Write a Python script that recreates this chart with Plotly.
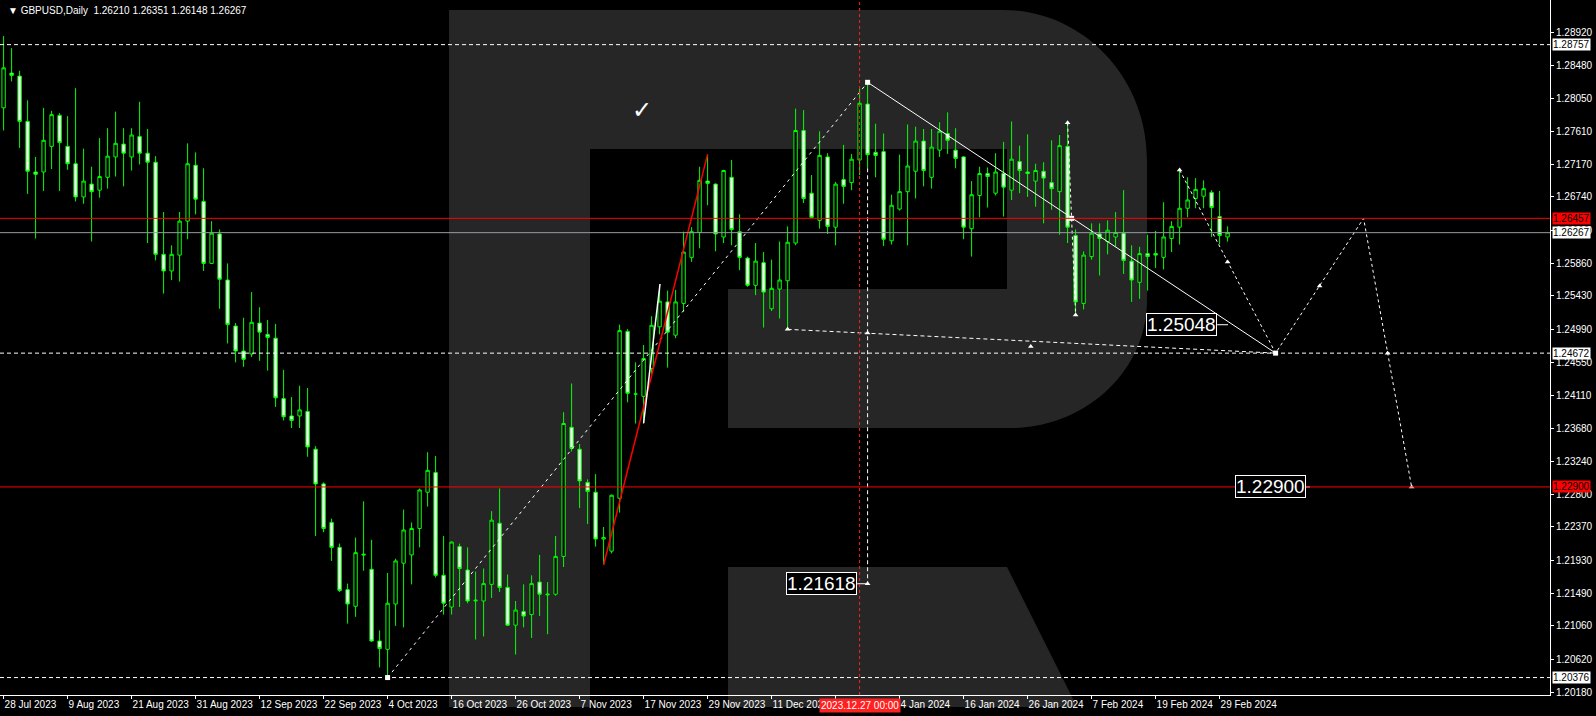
import plotly.graph_objects as go

# ---------------- data ----------------
opens = [1.2792,1.2838,1.2834,1.2774,1.2707,1.2707,1.2741,1.2782,1.2741,1.2718,
         1.2674,1.2691,1.2683,1.2700,1.2727,1.2744,1.2727,1.2754,1.2732,1.2720,
         1.2598,1.2576,1.2597,1.2642,1.2716,1.2668,1.2586,1.2625,1.2564,1.2503,
         1.2470,1.2466,1.2507,1.2492,1.2487,1.2407,1.2384,1.2384,1.2390,1.2340,
         1.2294,1.2243,1.2210,1.2154,1.2132,1.2201,1.2181,1.2086,1.2075,1.2135,
         1.2189,1.2200,1.2235,1.2283,1.2309,1.2173,1.2131,1.2211,1.2180,1.2139,
         1.2139,1.2161,1.2242,1.2157,1.2107,1.2125,1.2121,1.2164,1.2147,1.2148,
         1.2198,1.2369,1.2340,1.2296,1.2283,1.2221,1.2205,1.2275,1.2496,1.2413,
         1.2410,1.2447,1.2502,1.2535,1.2491,1.2533,1.2594,1.2627,1.2695,1.2691,
         1.2621,1.2700,1.2628,1.2593,1.2557,1.2587,1.2526,1.2552,1.2563,1.2613,
         1.2762,1.2679,1.2643,1.2727,1.2634,1.2697,1.2693,1.2723,1.2797,1.2733,
         1.2734,1.2616,1.2658,1.2681,1.2708,1.2748,1.2700,1.2736,1.2758,1.2736,
         1.2727,1.2632,1.2676,1.2705,1.2679,1.2705,1.2683,1.2721,1.2707,1.2695,
         1.2708,1.2693,1.2681,1.2741,1.2623,1.2533,1.2595,1.2625,1.2615,1.2621,
         1.2626,1.2589,1.2561,1.2599,1.2599,1.2594,1.2619,1.2634,1.2659,1.2672,
         1.2675,1.2680,1.2648,1.26210]
highs = [1.2887,1.2871,1.2841,1.2802,1.2727,1.2792,1.2788,1.2785,1.2781,1.2818,
         1.2738,1.2714,1.2752,1.2765,1.2787,1.2765,1.2765,1.2800,1.2764,1.2728,
         1.2654,1.2610,1.2654,1.2745,1.2733,1.2712,1.2642,1.2631,1.2586,1.2507,
         1.2514,1.2548,1.2528,1.2511,1.2506,1.2445,1.2409,1.2424,1.2421,1.2344,
         1.2296,1.2248,1.2215,1.2162,1.2223,1.2271,1.2220,1.2100,1.2176,1.2195,
         1.2260,1.2243,1.2288,1.2336,1.2331,1.2225,1.2218,1.2215,1.2210,1.2178,
         1.2182,1.2258,1.2288,1.2174,1.2139,1.2161,1.2173,1.2200,1.2164,1.2225,
         1.2389,1.2427,1.2347,1.2300,1.2307,1.2237,1.2280,1.2505,1.2499,1.2455,
         1.2478,1.2516,1.2556,1.2550,1.2551,1.2628,1.2634,1.2714,1.2730,1.2692,
         1.2710,1.2723,1.2651,1.2595,1.2613,1.2601,1.2591,1.2615,1.2635,1.2791,
         1.2789,1.2703,1.2761,1.2732,1.2694,1.2743,1.2731,1.2818,1.2826,1.2771,
         1.2758,1.2677,1.2730,1.2770,1.2767,1.2764,1.2764,1.2773,1.2786,1.2765,
         1.2728,1.2695,1.2714,1.2713,1.2732,1.2747,1.2774,1.2742,1.2757,1.2718,
         1.2720,1.2749,1.2756,1.2773,1.2631,1.2602,1.2639,1.2639,1.2643,1.2654,
         1.2683,1.2610,1.2608,1.2624,1.2629,1.2667,1.2642,1.2711,1.2700,1.2699,
         1.2696,1.2683,1.2682,1.26351]
lows = [1.2762,1.2827,1.2739,1.2678,1.2619,1.2682,1.2711,1.2682,1.2710,1.2668,
        1.2665,1.2615,1.2673,1.2685,1.2701,1.2688,1.2709,1.2717,1.2613,1.2590,
        1.2546,1.2564,1.2562,1.2618,1.2651,1.2576,1.2585,1.2526,1.2480,1.2455,
        1.2449,1.2462,1.2457,1.2444,1.2396,1.2378,1.2368,1.2368,1.2330,1.2225,
        1.2230,1.2192,1.2151,1.2109,1.2118,1.2179,1.2085,1.2051,1.20376,1.2106,
        1.2104,1.2161,1.2210,1.2264,1.2170,1.2121,1.2121,1.2131,1.2136,1.2088,
        1.2092,1.2143,1.2151,1.2106,1.2068,1.2104,1.2090,1.2119,1.2095,1.2146,
        1.2184,1.2337,1.2262,1.2241,1.2211,1.2187,1.2202,1.2256,1.2402,1.2374,
        1.2374,1.2440,1.2492,1.2448,1.2487,1.2522,1.2588,1.2606,1.2663,1.2602,
        1.2613,1.2610,1.2577,1.2555,1.2544,1.2501,1.2523,1.2513,1.2499,1.2610,
        1.2666,1.2646,1.2632,1.2625,1.2610,1.2665,1.2683,1.2703,1.2712,1.2700,
        1.2609,1.2611,1.2656,1.2610,1.2672,1.2688,1.2685,1.2727,1.2731,1.2712,
        1.2618,1.2595,1.2647,1.2660,1.2676,1.2648,1.2670,1.2679,1.2674,1.2661,
        1.2639,1.2657,1.2624,1.2613,1.2518,1.2525,1.2591,1.2570,1.2598,1.2608,
        1.2572,1.2535,1.2539,1.2550,1.2580,1.2578,1.2601,1.2611,1.2647,1.2659,
        1.2659,1.2621,1.2611,1.26148]
closes = [1.2845,1.2835,1.2774,1.2708,1.2704,1.2749,1.2783,1.2746,1.2718,1.2674,
          1.2695,1.2681,1.2701,1.2728,1.2745,1.2732,1.2756,1.2732,1.2720,1.2598,
          1.2576,1.2598,1.2642,1.2718,1.2671,1.2586,1.2626,1.2565,1.2505,1.2470,
          1.2459,1.2508,1.2495,1.2488,1.2408,1.2383,1.2378,1.2392,1.2343,1.2294,
          1.2235,1.2210,1.2153,1.2135,1.2203,1.2200,1.2086,1.2076,1.2136,1.2192,
          1.2233,1.2235,1.2286,1.2312,1.2173,1.2136,1.2217,1.2182,1.2139,1.2140,
          1.2162,1.2246,1.2157,1.2107,1.2127,1.2119,1.2162,1.2148,1.2148,1.2198,
          1.2374,1.2341,1.2298,1.2284,1.2221,1.2223,1.2279,1.2497,1.2414,1.2413,
          1.2460,1.2504,1.2536,1.2495,1.2535,1.2601,1.2628,1.2696,1.2692,1.2625,
          1.2709,1.2631,1.2594,1.2557,1.2589,1.2548,1.2553,1.2564,1.2614,1.2762,
          1.2672,1.2647,1.2729,1.2635,1.2691,1.2688,1.2724,1.2798,1.2730,1.2729,
          1.2618,1.2663,1.2681,1.2715,1.2748,1.2709,1.2740,1.2761,1.2749,1.2725,
          1.2634,1.2677,1.2705,1.2701,1.2707,1.2687,1.2724,1.2709,1.2705,1.2709,
          1.2699,1.2685,1.2742,1.2634,1.2535,1.2597,1.2626,1.2619,1.2630,1.2627,
          1.2590,1.2564,1.2599,1.2595,1.2597,1.2621,1.2635,1.2659,1.2670,1.2684,
          1.2685,1.2660,1.2623,1.26267]
bars = list(range(len(opens)))

tick_idx = list(range(0, 153, 8))
tick_labels = ["28 Jul 2023", "9 Aug 2023", "21 Aug 2023", "31 Aug 2023", "12 Sep 2023",
               "22 Sep 2023", "4 Oct 2023", "16 Oct 2023", "26 Oct 2023", "7 Nov 2023",
               "17 Nov 2023", "29 Nov 2023", "11 Dec 2023", "21 Dec 2023", "4 Jan 2024",
               "16 Jan 2024", "26 Jan 2024", "7 Feb 2024", "19 Feb 2024", "29 Feb 2024"]
price_ticks = [1.28920, 1.28480, 1.28050, 1.27610, 1.27170, 1.26740, 1.26300, 1.25860,
               1.25430, 1.24990, 1.24550, 1.24110, 1.23680, 1.23240, 1.22800, 1.22370,
               1.21930, 1.21490, 1.21060, 1.20620, 1.20180]

levels_dashed = [1.28757, 1.24672, 1.20376]
levels_red = [1.26457, 1.22900]
bid_price = 1.26267
white_labels = [1.28757, 1.26267, 1.24672, 1.20376]
red_labels = [1.26457, 1.22900]

cross_bar = 107
cross_label = "2023.12.27 00:00"
header = "▼ GBPUSD,Daily  1.26210 1.26351 1.26148 1.26267"

# drawings (bar index, price)
rally_x, rally_y = [48, 108], [1.20376, 1.28258]
red_leg_x, red_leg_y = [75, 88], [1.21866, 1.27304]
wave_x, wave_y = [80, 82.05], [1.23743, 1.25587]
fall_x, fall_y = [108, 159], [1.28258, 1.24672]
base_x, base_y = [98, 159], [1.24987, 1.24672]
drop_x, drop_y = [133, 134], [1.27723, 1.25177]
vert_x, vert_y = [108, 108], [1.2712, 1.21618]
proj_x = [147, 159, 170, 176]
proj_y = [1.27096, 1.24672, 1.26457, 1.22900]
arrow_x = [153, 164.5, 173, 108, 128.4, 98, 147, 176, 133, 134, 108]
arrow_y = [1.25879, 1.25560, 1.24672, 1.24939, 1.24759, 1.24987, 1.27096, 1.22900,
           1.27723, 1.25177, 1.21618]
square_x = [48, 108, 133.5, 159]
square_y = [1.20376, 1.28258, 1.26457, 1.24672]
boxes = [(106.7, 108.0, 1.21618), (151.7, 153.05, 1.25048), (162.76, 163.3, 1.22900)]

# ---------------- layout geometry ----------------
FW, FH = 1596, 716
ML, MR, MT, MB = 0, 46, 0, 21
PW, PH = FW - ML - MR, FH - MT - MB
PX_PER_BAR = 8.0
x0 = -3.6 / PX_PER_BAR
xr = [x0, x0 + PW / PX_PER_BAR]
yr = [1.20145, 1.29348]

GREEN = "#00FF00"
FONT = "Liberation Sans"

fig = go.Figure()

# watermark (RoboForex "R") in paper coords from pixel geometry
def P(px, py):
    return f"{px / PW:.5f},{1 - py / PH:.5f}"

r_path = ("M " + P(449, 10) + " L " + P(1003, 10) +
          " C " + P(1082.5, 10) + " " + P(1147, 77) + " " + P(1147, 160) +
          " L " + P(1147, 300) +
          " C " + P(1147, 371) + " " + P(1085.7, 428) + " " + P(1010, 428) +
          " L " + P(728, 428) + " L " + P(728, 289) + " L " + P(1007, 289) +
          " L " + P(1007, 149) + " L " + P(590, 149) + " L " + P(590, 707) +
          " L " + P(449, 707) + " Z")
leg_path = ("M " + P(728, 567) + " L " + P(1007, 567) + " L " + P(1077, 707) +
            " L " + P(728, 707) + " Z")
for pth in (r_path, leg_path):
    fig.add_shape(type="path", path=pth, xref="paper", yref="paper",
                  fillcolor="#262626", line=dict(width=0), layer="below")

fig.add_trace(go.Candlestick(
    x=bars, open=opens, high=highs, low=lows, close=closes,
    increasing=dict(line=dict(color=GREEN, width=1), fillcolor="black"),
    decreasing=dict(line=dict(color=GREEN, width=1), fillcolor="white"),
    whiskerwidth=0, hoverinfo="skip", showlegend=False))

def line(xs, ys, color="white", width=1, dash="solid"):
    fig.add_trace(go.Scatter(x=xs, y=ys, mode="lines", hoverinfo="skip", showlegend=False,
                             line=dict(color=color, width=width, dash=dash)))

line(rally_x, rally_y, dash="3px,4px")
line(red_leg_x, red_leg_y, color="red", width=1.5)
line(wave_x, wave_y, width=1.5)
line(fall_x, fall_y)
line(base_x, base_y, dash="4px,3px")
line(drop_x, drop_y, dash="3px,3px")
line(vert_x, vert_y, dash="4px,3px")
line(proj_x, proj_y, dash="3px,3px")
for a, b, p in boxes:
    line([a, b], [p, p])

fig.add_trace(go.Scatter(x=arrow_x, y=arrow_y, mode="markers", hoverinfo="skip",
                         showlegend=False,
                         marker=dict(symbol="triangle-up", size=5, color="white")))
fig.add_trace(go.Scatter(x=square_x, y=square_y, mode="markers", hoverinfo="skip",
                         showlegend=False,
                         marker=dict(symbol="square", size=5, color="white")))

# horizontal levels
for lv in levels_dashed:
    fig.add_shape(type="line", xref="paper", x0=0, x1=1, yref="y", y0=lv, y1=lv,
                  line=dict(color="white", width=1, dash="4px,3px"))
for lv in levels_red:
    fig.add_shape(type="line", xref="paper", x0=0, x1=1, yref="y", y0=lv, y1=lv,
                  line=dict(color="#FF0000", width=1))
fig.add_shape(type="line", xref="paper", x0=0, x1=1, yref="y", y0=bid_price, y1=bid_price,
              line=dict(color="#9a9aa4", width=1))
fig.add_shape(type="line", xref="x", x0=cross_bar, x1=cross_bar, yref="paper", y0=0, y1=1,
              line=dict(color="#FF2020", width=1, dash="3px,3px"))

# price labels on the right axis
for p in white_labels:
    fig.add_annotation(xref="paper", x=1, xanchor="left", xshift=2, yref="y", y=p,
                       text=f"{p:.5f}", showarrow=False, bgcolor="white",
                       font=dict(family=FONT, size=10, color="black"), borderpad=0)
for p in red_labels:
    fig.add_annotation(xref="paper", x=1, xanchor="left", xshift=2, yref="y", y=p,
                       text=f"{p:.5f}", showarrow=False, bgcolor="#FF0000",
                       font=dict(family=FONT, size=10, color="black"), borderpad=0)

# boxed value labels on the chart
for a, b, p in boxes:
    fig.add_annotation(x=a, y=p, xanchor="right", yanchor="middle", text=f"{p:.5f}",
                       showarrow=False, bgcolor="black", bordercolor="white", borderwidth=1,
                       borderpad=0, font=dict(family=FONT, size=19, color="white"))

# crosshair time label
fig.add_annotation(x=cross_bar, xref="x", yref="paper", y=0, yanchor="top", yshift=-3,
                   text=cross_label, showarrow=False, bgcolor="#FF2020", borderpad=1,
                   font=dict(family=FONT, size=10, color="white"))

# checkmark and header
fig.add_annotation(x=79.8, y=1.2789, text="✓", showarrow=False,
                   font=dict(family="DejaVu Sans", size=24, color="white"))
fig.add_annotation(xref="paper", x=6 / PW, xanchor="left", yref="paper", y=1,
                   yanchor="middle", yshift=-10.7, text=header, showarrow=False,
                   font=dict(family=FONT, size=10, color="white"))

fig.update_layout(
    width=FW, height=FH, margin=dict(l=ML, r=MR, t=MT, b=MB),
    paper_bgcolor="black", plot_bgcolor="rgba(0,0,0,0)",
    showlegend=False, boxgap=0.4,
    xaxis=dict(range=xr, tickmode="array", tickvals=tick_idx, ticktext=tick_labels,
               ticks="outside", ticklen=3, tickcolor="white", showline=True,
               linecolor="white", linewidth=1, showgrid=False, zeroline=False,
               rangeslider=dict(visible=False), ticklabelposition="outside right",
               tickangle=0, automargin=False,
               tickfont=dict(family=FONT, size=10, color="white"), fixedrange=True),
    yaxis=dict(range=yr, side="right", tickmode="array", tickvals=price_ticks,
               ticktext=[f"{v:.5f}" for v in price_ticks], ticks="outside", ticklen=3,
               tickcolor="white", showline=True, linecolor="white", linewidth=1,
               showgrid=False, zeroline=False, automargin=False,
               tickfont=dict(family=FONT, size=10, color="white"), fixedrange=True),
)

fig.write_html("out.html", config={"displayModeBar": False},
               post_script="document.body.style.margin='0px';"
                           "document.body.style.background='black';"
                           "document.body.style.overflow='hidden';")
